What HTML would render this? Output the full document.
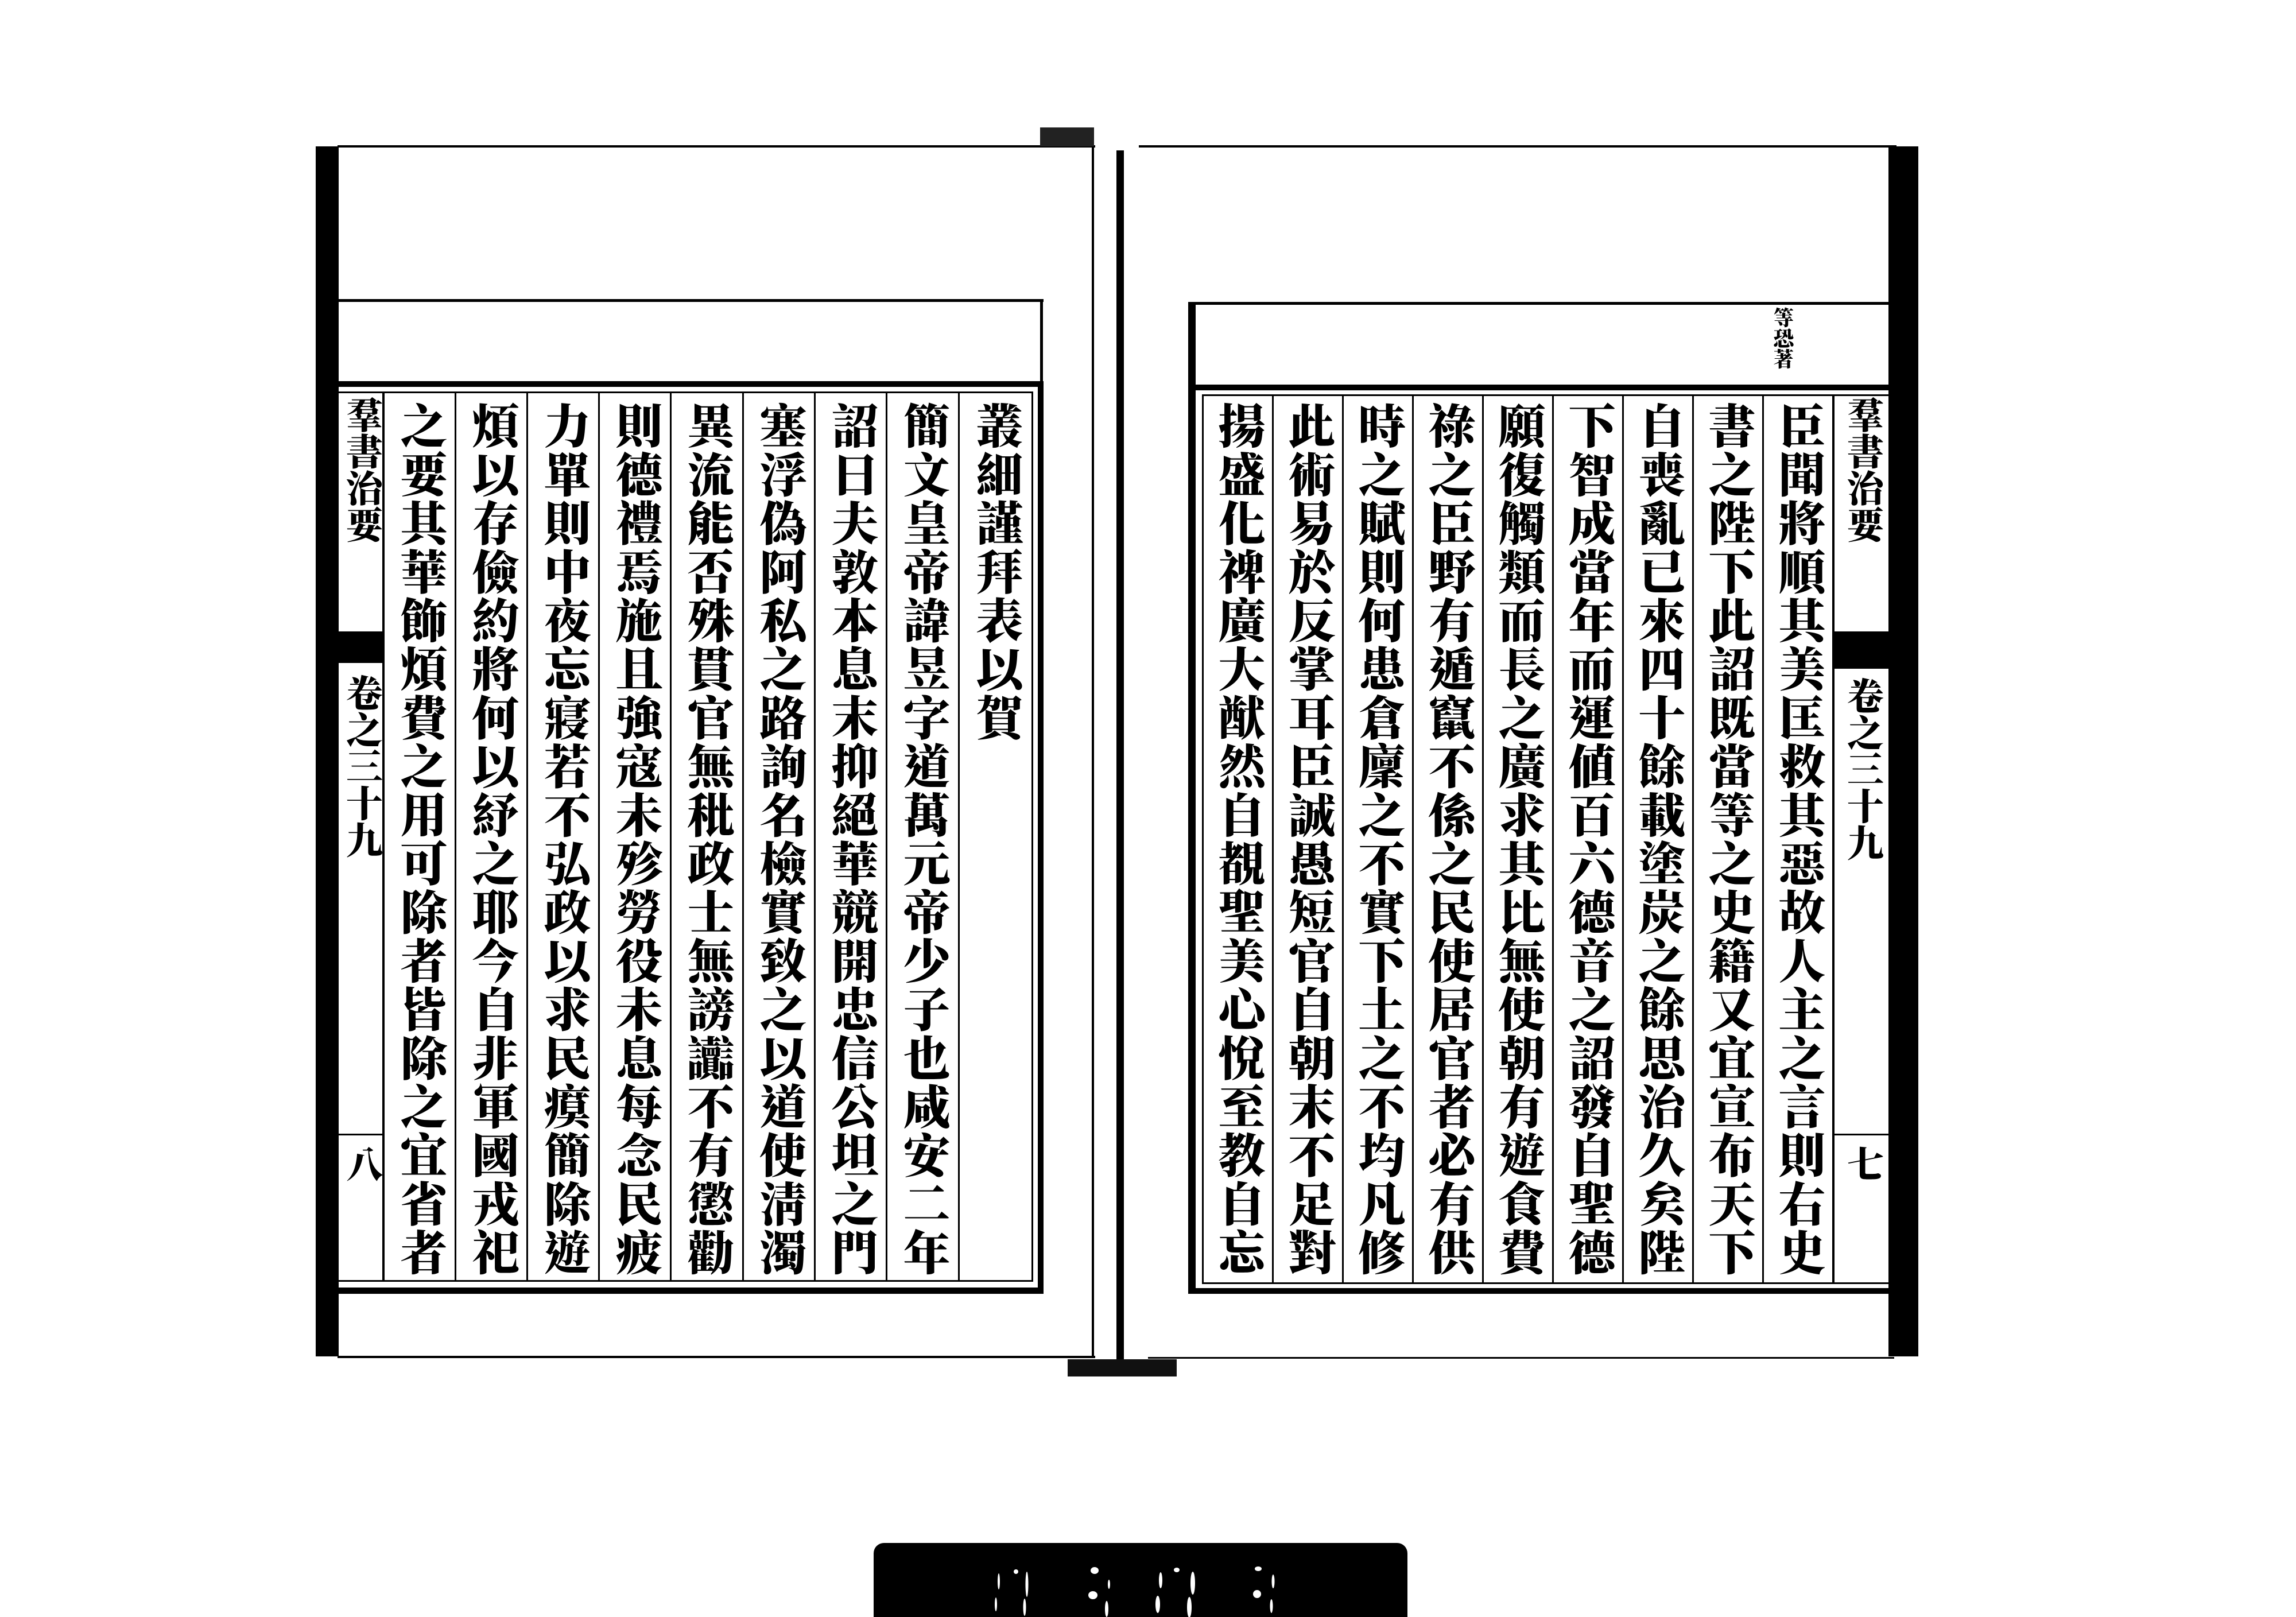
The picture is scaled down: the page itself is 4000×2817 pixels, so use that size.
<!DOCTYPE html>
<html><head><meta charset="utf-8">
<style>
html,body{margin:0;padding:0;background:#fff;}
#p{position:relative;width:4000px;height:2817px;overflow:hidden;background:#fff;}
.b{position:absolute;background:#000;}
.c{position:absolute;writing-mode:vertical-rl;font-family:"Liberation Serif","Noto Serif CJK TC","Noto Serif CJK SC",serif;font-weight:900;font-size:82px;letter-spacing:2.7px;color:#000;text-align:center;white-space:nowrap;}
.t{position:absolute;writing-mode:vertical-rl;font-family:"Liberation Serif","Noto Serif CJK TC","Noto Serif CJK SC",serif;font-weight:900;font-size:64px;color:#000;white-space:nowrap;}
</style></head><body><div id="p">

<!-- LEFT PAGE -->
<div class="b" style="left:550px;top:255px;width:40px;height:2108px;"></div>
<div class="b" style="left:588px;top:253px;width:1320px;height:4px;"></div>
<div class="b" style="left:588px;top:2362px;width:1320px;height:4px;"></div>
<div class="b" style="left:1902px;top:253px;width:4px;height:2113px;"></div>
<div class="b" style="left:1812px;top:222px;width:94px;height:33px;background:#222;"></div>
<div class="b" style="left:590px;top:521px;width:1228px;height:5px;"></div>
<div class="b" style="left:1812px;top:521px;width:5px;height:150px;"></div>
<!-- frame -->
<div class="b" style="left:590px;top:664px;width:1228px;height:10px;"></div>
<div class="b" style="left:590px;top:2243px;width:1228px;height:11px;"></div>
<div class="b" style="left:1808px;top:664px;width:10px;height:1590px;"></div>
<div class="b" style="left:1797px;top:682px;width:3px;height:1550px;"></div>
<div class="b" style="left:590px;top:682px;width:1210px;height:3px;"></div>
<div class="b" style="left:590px;top:2230px;width:1210px;height:3px;"></div>
<!-- strip -->
<div class="b" style="left:666px;top:682px;width:4px;height:1550px;"></div>
<div class="b" style="left:590px;top:1100px;width:78px;height:55px;"></div>
<div class="b" style="left:590px;top:1975px;width:78px;height:3px;"></div>
<div class="t" style="left:594px;top:690px;width:70px;line-height:70px;">羣書治要</div>
<div class="t" style="left:594px;top:1175px;width:70px;line-height:70px;">卷之三十九</div>
<div class="t" style="left:594px;top:1995px;width:70px;line-height:70px;">八</div>
<!-- dividers left -->
<div class="b" style="left:792px;top:682px;width:3px;height:1550px;"></div>
<div class="b" style="left:917px;top:682px;width:3px;height:1550px;"></div>
<div class="b" style="left:1042px;top:682px;width:3px;height:1550px;"></div>
<div class="b" style="left:1167px;top:682px;width:3px;height:1550px;"></div>
<div class="b" style="left:1293px;top:682px;width:3px;height:1550px;"></div>
<div class="b" style="left:1418px;top:682px;width:3px;height:1550px;"></div>
<div class="b" style="left:1543px;top:682px;width:3px;height:1550px;"></div>
<div class="b" style="left:1669px;top:682px;width:3px;height:1550px;"></div>
<!-- columns left -->
<div class="c" style="left:670px;top:700px;width:122px;line-height:122px;">之要其華飾煩費之用可除者皆除之宜省者</div>
<div class="c" style="left:795px;top:700px;width:122px;line-height:122px;">煩以存儉約將何以紓之耶今自非軍國戎祀</div>
<div class="c" style="left:920px;top:700px;width:122px;line-height:122px;">力單則中夜忘寢若不弘政以求民瘼簡除遊</div>
<div class="c" style="left:1045px;top:700px;width:122px;line-height:122px;">則德禮焉施且強寇未殄勞役未息每念民疲</div>
<div class="c" style="left:1170px;top:700px;width:123px;line-height:123px;">異流能否殊貫官無秕政士無謗讟不有懲勸</div>
<div class="c" style="left:1296px;top:700px;width:122px;line-height:122px;">塞浮偽阿私之路詢名檢實致之以道使淸濁</div>
<div class="c" style="left:1421px;top:700px;width:122px;line-height:122px;">詔曰夫敦本息末抑絕華競開忠信公坦之門</div>
<div class="c" style="left:1546px;top:700px;width:123px;line-height:123px;">簡文皇帝諱昱字道萬元帝少子也咸安二年</div>
<div class="c" style="left:1672px;top:700px;width:125px;line-height:125px;">叢細謹拜表以賀</div>

<!-- CENTER -->
<div class="b" style="left:1945px;top:262px;width:13px;height:2108px;"></div>
<div class="b" style="left:1860px;top:2368px;width:190px;height:30px;background:#111;"></div>

<!-- RIGHT PAGE -->
<div class="b" style="left:1984px;top:253px;width:1320px;height:4px;"></div>
<div class="b" style="left:2000px;top:2364px;width:1300px;height:3px;"></div>
<div class="b" style="left:3290px;top:255px;width:52px;height:2108px;"></div>
<div class="b" style="left:2070px;top:526px;width:1225px;height:5px;"></div>
<div class="b" style="left:2070px;top:526px;width:13px;height:1728px;"></div>
<div class="b" style="left:2070px;top:670px;width:1225px;height:10px;"></div>
<div class="b" style="left:2070px;top:2244px;width:1225px;height:10px;"></div>
<div class="b" style="left:2094px;top:687px;width:3px;height:1550px;"></div>
<div class="b" style="left:2094px;top:687px;width:1200px;height:3px;"></div>
<div class="b" style="left:2094px;top:2234px;width:1200px;height:3px;"></div>
<div class="t" style="left:3075px;top:535px;width:60px;line-height:60px;font-size:36px;">等恐著</div>
<!-- strip right -->
<div class="b" style="left:3192px;top:687px;width:4px;height:1550px;"></div>
<div class="b" style="left:3196px;top:1100px;width:96px;height:65px;"></div>
<div class="b" style="left:3196px;top:1975px;width:96px;height:3px;"></div>
<div class="t" style="left:3208px;top:690px;width:72px;line-height:72px;">羣書治要</div>
<div class="t" style="left:3208px;top:1180px;width:72px;line-height:72px;">卷之三十九</div>
<div class="t" style="left:3208px;top:1995px;width:72px;line-height:72px;">七</div>
<!-- dividers right -->
<div class="b" style="left:2216px;top:687px;width:3px;height:1550px;"></div>
<div class="b" style="left:2338px;top:687px;width:3px;height:1550px;"></div>
<div class="b" style="left:2460px;top:687px;width:3px;height:1550px;"></div>
<div class="b" style="left:2582px;top:687px;width:3px;height:1550px;"></div>
<div class="b" style="left:2704px;top:687px;width:3px;height:1550px;"></div>
<div class="b" style="left:2826px;top:687px;width:3px;height:1550px;"></div>
<div class="b" style="left:2948px;top:687px;width:3px;height:1550px;"></div>
<div class="b" style="left:3070px;top:687px;width:3px;height:1550px;"></div>
<!-- columns right -->
<div class="c" style="left:2097px;top:700px;width:119px;line-height:119px;">揚盛化禆廣大猷然自覩聖美心悅至教自忘</div>
<div class="c" style="left:2219px;top:700px;width:119px;line-height:119px;">此術易於反掌耳臣誠愚短官自朝末不足對</div>
<div class="c" style="left:2341px;top:700px;width:119px;line-height:119px;">時之賦則何患倉廩之不實下土之不均凡修</div>
<div class="c" style="left:2463px;top:700px;width:119px;line-height:119px;">祿之臣野有遁竄不係之民使居官者必有供</div>
<div class="c" style="left:2585px;top:700px;width:119px;line-height:119px;">願復觸類而長之廣求其比無使朝有遊食費</div>
<div class="c" style="left:2707px;top:700px;width:119px;line-height:119px;">下智成當年而運値百六德音之詔發自聖德</div>
<div class="c" style="left:2829px;top:700px;width:119px;line-height:119px;">自喪亂已來四十餘載塗炭之餘思治久矣陛</div>
<div class="c" style="left:2951px;top:700px;width:119px;line-height:119px;">書之陛下此詔既當等之史籍又宜宣布天下</div>
<div class="c" style="left:3073px;top:700px;width:119px;line-height:119px;">臣聞將順其美匡救其惡故人主之言則右史</div>

<!-- bottom label -->
<div class="b" style="left:1522px;top:2688px;width:930px;height:140px;border-radius:18px 18px 0 0;"></div>
<svg style="position:absolute;left:1500px;top:2650px" width="1000" height="167">
<g fill="#fff">
<ellipse cx="270" cy="88" rx="4" ry="4"/><ellipse cx="240" cy="105" rx="2" ry="14"/><ellipse cx="289" cy="110" rx="2.5" ry="22"/><ellipse cx="235" cy="145" rx="2" ry="12"/><ellipse cx="285" cy="150" rx="2.5" ry="15"/>
<ellipse cx="407" cy="86" rx="7" ry="6"/><ellipse cx="432" cy="110" rx="2" ry="8"/><ellipse cx="404" cy="129" rx="8" ry="7"/><ellipse cx="428" cy="153" rx="3" ry="14"/>
<ellipse cx="550" cy="85" rx="5" ry="4"/><ellipse cx="522" cy="103" rx="3" ry="14"/><ellipse cx="578" cy="108" rx="4" ry="20"/><ellipse cx="517" cy="145" rx="4" ry="15"/><ellipse cx="572" cy="150" rx="4" ry="18"/>
<ellipse cx="692" cy="83" rx="6" ry="4"/><ellipse cx="718" cy="105" rx="2.5" ry="12"/><ellipse cx="690" cy="127" rx="7" ry="7"/><ellipse cx="715" cy="148" rx="2.5" ry="12"/>
</g></svg>

</div></body></html>
